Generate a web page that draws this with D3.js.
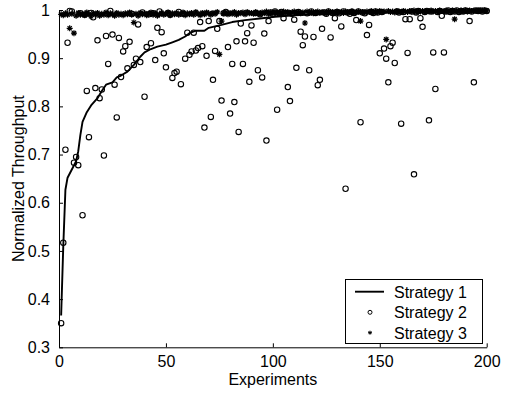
<!DOCTYPE html>
<html>
<head>
<meta charset="utf-8">
<script src="https://cdn.jsdelivr.net/npm/d3@7"></script>
<style>
  html, body { margin: 0; padding: 0; background: #fff; }
  svg { display: block; }
  text { font-family: "Liberation Sans", Arial, Helvetica, sans-serif; fill: #000; }
</style>
</head>
<body>
<svg id="chart" width="505" height="394"></svg>
<script>
// Strategy 1: running throughput curve (experiment, value)
const strategy1X = [1, 2, 3, 4, 6, 8, 9, 10, 11, 13, 15, 18, 20, 22, 25, 27, 29, 32, 35, 38, 40,
  43, 46, 50, 53, 56, 59, 61, 64, 68, 70, 76, 81, 87, 95, 101, 110, 120, 135, 150, 165, 180, 200];
const strategy1Y = [0.366, 0.510, 0.627, 0.652, 0.669, 0.686, 0.707, 0.741, 0.768, 0.788, 0.802,
  0.817, 0.832, 0.845, 0.850, 0.860, 0.864, 0.872, 0.886, 0.903, 0.912, 0.919, 0.924, 0.928, 0.933,
  0.938, 0.945, 0.952, 0.957, 0.957, 0.963, 0.969, 0.975, 0.979, 0.983, 0.986, 0.989, 0.991, 0.993,
  0.994, 0.995, 0.996, 0.997];

// Strategy 2: per-experiment throughput, experiments 1..200
const strategy2 = [
  0.350, 0.517, 0.710, 0.932, 0.998, 0.997, 0.683, 0.695, 0.678, 0.993,
  0.574, 0.990, 0.832, 0.736, 0.994, 0.985, 0.838, 0.937, 0.817, 0.835,
  0.698, 0.946, 0.888, 0.998, 0.949, 0.845, 0.777, 0.942, 0.861, 0.914,
  0.925, 0.879, 0.934, 0.992, 0.886, 0.899, 0.970, 0.892, 0.995, 0.820,
  0.923, 0.991, 0.931, 0.993, 0.896, 0.963, 0.997, 0.954, 0.910, 0.881,
  0.994, 0.990, 0.859, 0.869, 0.872, 0.996, 0.846, 0.992, 0.899, 0.953,
  0.907, 0.914, 0.953, 0.916, 0.921, 0.975, 0.925, 0.756, 0.905, 0.977,
  0.778, 0.855, 0.915, 0.961, 0.977, 0.812, 0.993, 0.996, 0.923, 0.785,
  0.888, 0.809, 0.935, 0.747, 0.972, 0.888, 0.935, 0.952, 0.851, 0.968,
  0.932, 0.994, 0.875, 0.991, 0.860, 0.951, 0.729, 0.977, 0.995, 0.992,
  0.997, 0.793, 0.993, 0.996, 0.983, 0.994, 0.840, 0.811, 0.992, 0.980,
  0.880, 0.996, 0.955, 0.927, 0.945, 0.993, 0.875, 0.997, 0.944, 0.994,
  0.844, 0.855, 0.961, 0.995, 0.992, 0.997, 0.943, 0.994, 0.983, 0.996,
  0.993, 0.966, 0.997, 0.629, 0.995, 0.992, 0.996, 0.994, 0.979, 0.997,
  0.767, 0.995, 0.993, 0.948, 0.969, 0.996, 0.994, 0.997, 0.995, 0.910,
  0.996, 0.920, 0.899, 0.850, 0.925, 0.932, 0.890, 0.997, 0.995, 0.764,
  0.996, 0.981, 0.911, 0.981, 0.997, 0.659, 0.995, 0.998, 0.983, 0.965,
  0.996, 0.998, 0.771, 0.997, 0.912, 0.836, 0.996, 0.998, 0.988, 0.912,
  0.997, 0.999, 0.996, 0.998, 0.997, 0.999, 0.996, 0.998, 0.997, 0.999,
  0.998, 0.977, 0.997, 0.850, 0.999, 0.998, 0.999, 0.997, 0.999, 0.998
];

// Strategy 3: per-experiment throughput, experiments 1..200
const strategy3 = [
  0.991, 0.989, 0.993, 0.990, 0.962, 0.992, 0.952, 0.988, 0.994, 0.990,
  0.992, 0.989, 0.995, 0.991, 0.987, 0.993, 0.990, 0.994, 0.988, 0.992,
  0.990, 0.995, 0.989, 0.993, 0.991, 0.988, 0.994, 0.990, 0.992, 0.989,
  0.993, 0.991, 0.995, 0.990, 0.974, 0.992, 0.988, 0.994, 0.991, 0.993,
  0.989, 0.992, 0.995, 0.990, 0.993, 0.988, 0.991, 0.994, 0.990, 0.992,
  0.995, 0.989, 0.993, 0.991, 0.994, 0.990, 0.992, 0.995, 0.989, 0.993,
  0.991, 0.994, 0.990, 0.996, 0.992, 0.989, 0.994, 0.991, 0.995, 0.993,
  0.990, 0.994, 0.992, 0.996, 0.908, 0.977, 0.993, 0.995, 0.991, 0.994,
  0.992, 0.996, 0.990, 0.994, 0.993, 0.995, 0.991, 0.996, 0.993, 0.994,
  0.992, 0.996, 0.994, 0.991, 0.995, 0.993, 0.997, 0.992, 0.995, 0.994,
  0.996, 0.993, 0.995, 0.992, 0.997, 0.994, 0.996, 0.993, 0.995, 0.997,
  0.994, 0.996, 0.993, 0.995, 0.973, 0.997, 0.994, 0.996, 0.993, 0.995,
  0.997, 0.994, 0.996, 0.995, 0.993, 0.997, 0.995, 0.996, 0.994, 0.997,
  0.995, 0.996, 0.994, 0.997, 0.995, 0.996, 0.998, 0.994, 0.996, 0.997,
  0.977, 0.996, 0.995, 0.997, 0.996, 0.998, 0.995, 0.997, 0.996, 0.998,
  0.996, 0.997, 0.939, 0.998, 0.996, 0.997, 0.995, 0.998, 0.997, 0.996,
  0.998, 0.997, 0.996, 0.998, 0.997, 0.999, 0.996, 0.998, 0.997, 0.998,
  0.996, 0.998, 0.997, 0.999, 0.997, 0.998, 0.996, 0.999, 0.998, 0.997,
  0.999, 0.997, 0.998, 0.999, 0.981, 0.998, 0.997, 0.999, 0.998, 0.999,
  0.997, 0.999, 0.998, 0.999, 0.998, 0.999, 0.998, 0.999, 0.999, 0.998
];

const xTicks = [0, 50, 100, 150, 200];
const yTicks = [0.3, 0.4, 0.5, 0.6, 0.7, 0.8, 0.9, 1];
const legendLabels = ["Strategy 1", "Strategy 2", "Strategy 3"];
const xTitle = "Experiments";
const yTitle = "Normalized Throughput";

const svg = d3.select("#chart");
const plotLeft = 59, plotRight = 486.7, plotTop = 10, plotBottom = 347.3;
const fontSize = 16;

const x = d3.scaleLinear().domain([0, 200]).range([plotLeft, plotRight]);
const y = d3.scaleLinear().domain([0.3, 1]).range([plotBottom, plotTop]);

// Strategy 2 circles
svg.append("g")
  .selectAll("circle")
  .data(strategy2)
  .join("circle")
  .attr("cx", (d, i) => x(i + 1))
  .attr("cy", d => y(d))
  .attr("r", 2.7)
  .attr("fill", "none")
  .attr("stroke", "#000")
  .attr("stroke-width", 1.1);

// Asterisk marker path
const starPath = (s) => {
  const d = s * 0.7071;
  return `M${-s},0L${s},0M0,${-s}L0,${s}M${-d},${-d}L${d},${d}M${-d},${d}L${d},${-d}`;
};

// Strategy 3 asterisks
svg.append("g")
  .selectAll("path")
  .data(strategy3)
  .join("path")
  .attr("transform", (d, i) => `translate(${x(i + 1)},${y(d)})`)
  .attr("d", starPath(3))
  .attr("fill", "none")
  .attr("stroke", "#000")
  .attr("stroke-width", 1.2);

// Strategy 1 line
const linePts = strategy1X.map((v, i) => [v, strategy1Y[i]]);
svg.append("path")
  .datum(linePts)
  .attr("d", d3.line().x(d => x(d[0])).y(d => y(d[1])))
  .attr("fill", "none")
  .attr("stroke", "#000")
  .attr("stroke-width", 1.9)
  .attr("stroke-linejoin", "round");

// Axes (ticks inward)
const xAxis = d3.axisBottom(x).tickValues(xTicks).tickSizeInner(-4).tickSizeOuter(0)
  .tickFormat(d3.format("d")).tickPadding(8);
const yAxis = d3.axisLeft(y).tickValues(yTicks).tickSizeInner(-4).tickSizeOuter(0)
  .tickFormat(d => d === 1 ? "1" : d3.format(".1f")(d)).tickPadding(9);

const gx = svg.append("g").attr("transform", `translate(0,${plotBottom})`).call(xAxis);
const gy = svg.append("g").attr("transform", `translate(${plotLeft},0)`).call(yAxis);
[gx, gy].forEach(g => {
  g.select(".domain").attr("stroke", "#000").attr("stroke-width", 1);
  g.selectAll(".tick line").attr("stroke", "#000");
  g.selectAll(".tick text").attr("font-size", fontSize)
    .attr("font-family", "'Liberation Sans', Arial, sans-serif").attr("fill", "#000");
});

// Axis titles
svg.append("text")
  .attr("x", (plotLeft + plotRight) / 2)
  .attr("y", 384.5)
  .attr("text-anchor", "middle")
  .attr("font-size", fontSize)
  .text(xTitle);

svg.append("text")
  .attr("transform", `translate(24,${(plotTop + plotBottom) / 2}) rotate(-90)`)
  .attr("text-anchor", "middle")
  .attr("font-size", fontSize)
  .text(yTitle);

// Legend
const lg = svg.append("g");
lg.append("rect")
  .attr("x", 345.5).attr("y", 279.5).attr("width", 137).attr("height", 64)
  .attr("fill", "#fff").attr("stroke", "#000").attr("stroke-width", 1);
const rowY = [291.7, 312.3, 332.7];
lg.append("line")
  .attr("x1", 355).attr("x2", 384).attr("y1", rowY[0]).attr("y2", rowY[0])
  .attr("stroke", "#000").attr("stroke-width", 1.9);
lg.append("circle")
  .attr("cx", 370).attr("cy", rowY[1]).attr("r", 2).attr("fill", "none")
  .attr("stroke", "#000").attr("stroke-width", 1);
lg.append("path")
  .attr("transform", `translate(370,${rowY[2]})`)
  .attr("d", starPath(2)).attr("fill", "none").attr("stroke", "#000").attr("stroke-width", 1);
lg.selectAll("text.lbl")
  .data(legendLabels)
  .join("text")
  .attr("class", "lbl")
  .attr("x", 394)
  .attr("y", (d, i) => rowY[i] + 5.8)
  .attr("font-size", fontSize)
  .text(d => d);
</script>
</body>
</html>
